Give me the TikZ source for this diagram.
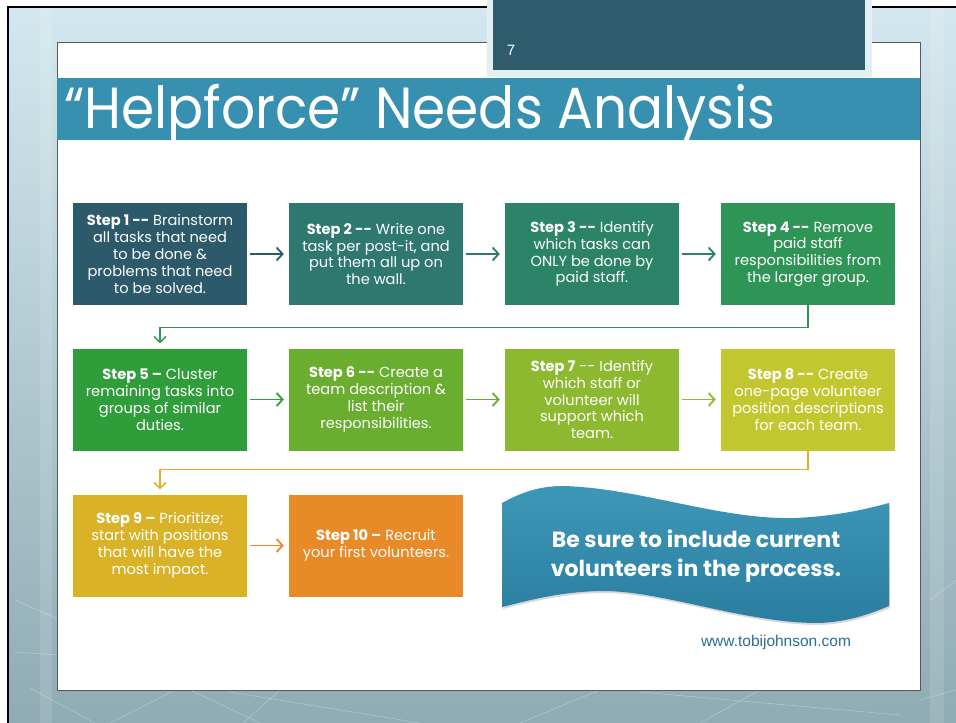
\documentclass[tikz,border=0pt]{standalone}
\usepackage{fontspec}
\usepackage{graphicx}
\setmainfont{Poppins}
\newfontfamily\urlfont{Liberation Sans}
\usetikzlibrary{arrows.meta, positioning, shadows}

% palette
\definecolor{bgtop}{HTML}{D3E8EE}
\definecolor{bgbot}{HTML}{8FABB4}
\definecolor{tabedge}{HTML}{E2F0F4}
\definecolor{tabdark}{HTML}{2E5C6C}
\definecolor{titlebar}{HTML}{3790B0}
\definecolor{cA}{HTML}{2D5A6A}
\definecolor{cB}{HTML}{2E7870}
\definecolor{cC}{HTML}{2B8468}
\definecolor{cD}{HTML}{2E9556}
\definecolor{cE}{HTML}{2F9D3A}
\definecolor{cF}{HTML}{6AAE2F}
\definecolor{cG}{HTML}{8CB930}
\definecolor{cH}{HTML}{C3C72F}
\definecolor{cI}{HTML}{D9B228}
\definecolor{cJ}{HTML}{E98A28}
\definecolor{bantop}{HTML}{3E97B7}
\definecolor{banbot}{HTML}{2A7EA0}
\definecolor{urlblue}{HTML}{2C6D94}

\tikzset{>=stealth}
\tikzset{
  stepbox/.style={fill=#1, text=white, minimum width=174pt, minimum height=102pt,
    inner sep=0pt, align=center, font=\fontsize{14.6}{16.8}\selectfont},
  flow/.style={draw=#1, line width=1.8pt, shorten <=3pt, shorten >=5pt,
    -{Straight Barb[length=6pt,width=13pt]}},
  loop/.style={draw=#1, line width=1.4pt, shorten >=5pt,
    -{Straight Barb[length=6pt,width=12pt]}},
}
\newcommand{\dd}{-{}-}

\begin{document}
\begin{tikzpicture}[x=1pt, y=-1pt]
            \useasboundingbox (0,0) rectangle (956,723);
            \fill[white] (0,0) rectangle (956,723);
            % slide backdrop
            \shade[top color=bgtop, bottom color=bgbot] (8,7) rectangle (956,723);
            \foreach \a/\b in {{(15,600)/(60,620)}, {(15,652)/(60,655)}, {(30,688)/(95,723)},
                {(110,723)/(175,690)}, {(190,690)/(260,723)}, {(243,723)/(280,690)},
                {(230,692)/(420,723)}, {(520,723)/(600,690)}, {(640,692)/(900,715)},
                {(930,600)/(956,580)}, {(920,700)/(956,690)}, {(700,723)/(760,690)}}
              \draw[white, opacity=0.3, line width=0.6pt] \a -- \b;
            \fill[white, opacity=0.12] (40,7) rectangle (52,723);
            \fill[white, opacity=0.12] (930,7) rectangle (944,723);
            \draw[black, line width=1.6pt] (8,723) -- (8,7) -- (956,7);
            % white panel
            \draw[fill=white, draw=black!65, line width=0.8pt] (57,42) rectangle (920,690);
            % page tab
            \fill[tabedge] (487,0) rectangle (872,77);
            \fill[tabdark] (493,0) rectangle (865,70);
            \node[text=white, font=\urlfont\fontsize{15}{15}\selectfont] (pagenum) at (511,50) {7};
            % title
            \fill[titlebar] (57,78) rectangle (920,140);
            \node[anchor=base west, text=white, inner sep=0pt] (title) at (64,128)
              {\scalebox{0.92}[1]{\fontsize{58}{58}\selectfont ``Helpforce'' Needs Analysis}};

            % steps
            \node[stepbox=cA] (s1) at (160,254) {\textbf{Step 1 \dd} Brainstorm\\all tasks that need\\to be done \&\\problems that need\\to be solved.};
            \node[stepbox=cB] (s2) at (376,254) {\textbf{Step 2 \dd} Write one\\task per post-it, and\\put them all up on\\the wall.};
            \node[stepbox=cC] (s3) at (592,254) {\textbf{Step 3 \dd} Identify\\which tasks can\\ONLY be done by\\paid staff.};
            \node[stepbox=cD] (s4) at (808,254) {\textbf{Step 4 \dd} Remove\\paid staff\\responsibilities from\\the larger group.};
            \node[stepbox=cE] (s5) at (160,399.5) {\textbf{Step 5 –} Cluster\\remaining tasks into\\groups of similar\\duties.};
            \node[stepbox=cF] (s6) at (376,399.5) {\textbf{Step 6 \dd} Create a\\team description \&\\list their\\responsibilities.};
            \node[stepbox=cG] (s7) at (592,399.5) {\textbf{Step 7} \dd{} Identify\\which staff or\\volunteer will\\support which\\team.};
            \node[stepbox=cH] (s8) at (808,399.5) {\textbf{Step 8 \dd} Create\\one-page volunteer\\position descriptions\\for each team.};
            \node[stepbox=cI] (s9) at (160,545.5) {\textbf{Step 9 –} Prioritize;\\start with positions\\that will have the\\most impact.};
            \node[stepbox=cJ] (s10) at (376,545.5) {\textbf{Step 10 –} Recruit\\your first volunteers.};

            \draw[flow=cA] (s1) -- (s2);
            \draw[flow=cB] (s2) -- (s3);
            \draw[flow=cC] (s3) -- (s4);
            \draw[loop=cD] (s4.south) -- ++(0,22) -| (s5.north);
            \draw[flow=cE] (s5) -- (s6);
            \draw[flow=cF] (s6) -- (s7);
            \draw[flow=cG] (s7) -- (s8);
            \draw[loop=cI] (s8.south) -- ++(0,19) -| (s9.north);
            \draw[flow=cJ] (s9) -- (s10);

            % ribbon note
            \shade[top color=bantop, bottom color=banbot,
                   drop shadow={opacity=0.3, shadow xshift=1pt, shadow yshift=-2pt}]
              (502,503) .. controls (522,492) and (540,486) .. (563,486)
              .. controls (640,488) and (720,520) .. (795,518)
              .. controls (840,516) and (870,508) .. (889,503)
              -- (889,606)
              .. controls (870,614) and (845,623) .. (815,623)
              .. controls (740,622) and (660,590) .. (600,591)
              .. controls (560,592) and (530,600) .. (502,607) -- cycle;
            \node[text=white, align=center, font=\bfseries\fontsize{22}{29}\selectfont] (note) at (696,556)
              {Be sure to include current\\volunteers in the process.};
            \node[anchor=base, text=urlblue, font=\urlfont\fontsize{15.5}{15.5}\selectfont] (url) at (776,646) {www.tobijohnson.com};
        \end{tikzpicture}
\end{document}
